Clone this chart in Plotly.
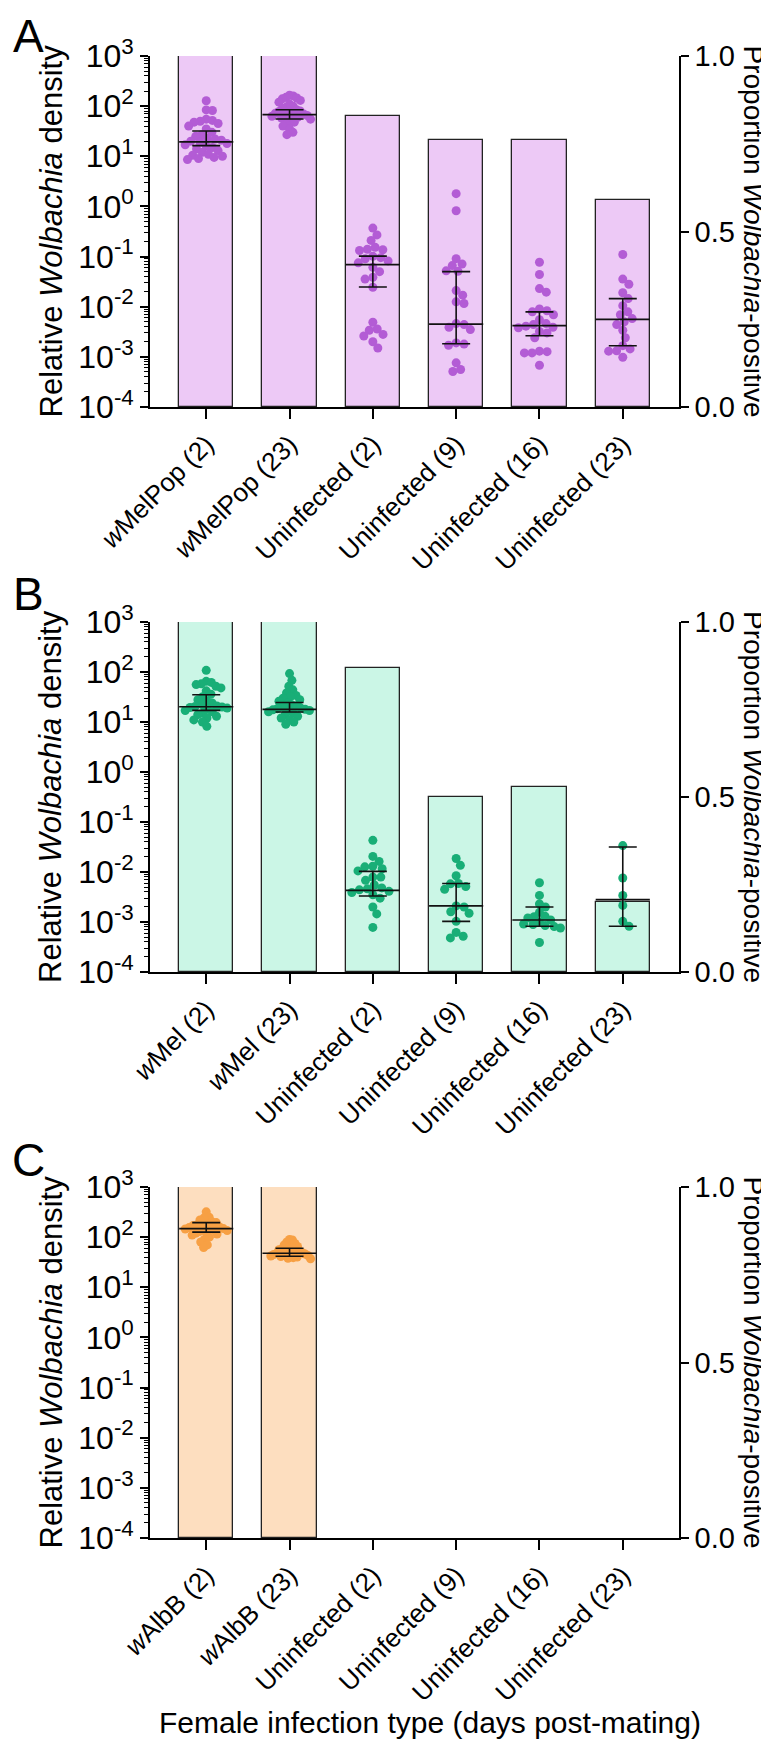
import numpy as np
import plotly.graph_objects as go

# ---------------- data ----------------
labels_A = ["<i>w</i>MelPop (2)", "<i>w</i>MelPop (23)", "Uninfected (2)", "Uninfected (9)", "Uninfected (16)", "Uninfected (23)"]
labels_B = ["<i>w</i>Mel (2)", "<i>w</i>Mel (23)", "Uninfected (2)", "Uninfected (9)", "Uninfected (16)", "Uninfected (23)"]
labels_C = ["<i>w</i>AlbB (2)", "<i>w</i>AlbB (23)", "Uninfected (2)", "Uninfected (9)", "Uninfected (16)", "Uninfected (23)"]

# proportion Wolbachia-positive (bars, right axis)
prop_A = [1.0, 1.0, 0.83, 0.76, 0.76, 0.59]
prop_B = [1.0, 1.0, 0.87, 0.50, 0.53, 0.20]
prop_C = [1.0, 1.0, 0.0, 0.0, 0.0, 0.0]

# relative density of individual females (points, left log axis)
A1 = [128, 84, 82, 55, 52, 50, 48, 45, 40, 35, 30, 27, 25, 23, 22, 21, 20, 19, 18, 17, 16, 15, 14, 13, 12, 11, 10.5, 10, 9.5, 9, 8.6]
A2 = [165, 160, 150, 145, 140, 130, 120, 110, 100, 95, 90, 85, 80, 78, 75, 72, 70, 68, 67, 65, 63, 60, 58, 55, 52, 48, 44, 40, 35, 30, 27]
A3 = [0.37, 0.27, 0.21, 0.153, 0.14, 0.137, 0.132, 0.101, 0.095, 0.09, 0.082, 0.075, 0.061, 0.05, 0.0385, 0.0355, 0.0245, 0.0049, 0.0036, 0.0034, 0.0028, 0.0026, 0.002, 0.0015]
A4 = [1.8, 0.82, 0.091, 0.071, 0.066, 0.052, 0.051, 0.021, 0.017, 0.0125, 0.0116, 0.0046, 0.0044, 0.0039, 0.0035, 0.0019, 0.0018, 0.0017, 0.00076, 0.00056, 0.00051]
A5 = [0.077, 0.044, 0.023, 0.0195, 0.009, 0.0083, 0.0079, 0.0069, 0.0055, 0.0046, 0.0044, 0.0041, 0.0039, 0.0038, 0.0032, 0.003, 0.0024, 0.0013, 0.00127, 0.0012, 0.0012, 0.00068]
A6 = [0.11, 0.0355, 0.028, 0.019, 0.0145, 0.0105, 0.0079, 0.0069, 0.0058, 0.005, 0.0044, 0.0034, 0.0024, 0.00167, 0.00144, 0.00132, 0.0013, 0.00098]

B1 = [108, 65, 62, 58, 56, 52, 48, 42, 36, 32, 28, 26, 24, 22, 21, 20.5, 20, 19.5, 19, 18, 17, 16, 15, 14, 13, 12, 11, 10, 8.2]
B2 = [93, 68, 52, 44, 38, 34, 32, 30, 28, 26, 24, 22, 21, 20, 19, 18.5, 18, 17.5, 17, 16.5, 16, 15, 14, 13, 12, 11, 10, 9]
B3 = [0.043, 0.0205, 0.0163, 0.013, 0.0127, 0.0116, 0.0105, 0.0079, 0.0079, 0.0068, 0.0055, 0.0048, 0.0046, 0.0044, 0.0041, 0.0039, 0.0035, 0.003, 0.002, 0.00145, 0.00078]
B4 = [0.0186, 0.0136, 0.0084, 0.0059, 0.0058, 0.0051, 0.0045, 0.0021, 0.0020, 0.0016, 0.0015, 0.00103, 0.00062, 0.00052, 0.00048]
B5 = [0.0061, 0.0034, 0.0023, 0.0020, 0.00156, 0.0013, 0.00128, 0.0012, 0.0011, 0.001, 0.00091, 0.00089, 0.00085, 0.00081, 0.00076, 0.00039]
B6 = [0.0337, 0.0076, 0.0034, 0.00215, 0.00103, 0.00082]

C1 = [320, 250, 240, 220, 200, 195, 185, 175, 170, 165, 160, 155, 150, 148, 145, 140, 135, 130, 125, 120, 115, 110, 100, 90, 80, 70, 62]
C2 = [90, 88, 80, 75, 70, 65, 62, 60, 58, 56, 54, 52, 50, 49, 48, 47, 46, 45, 44, 43, 42, 41, 40, 39, 38, 37]

# medians with error bars
med_A = [19.4, 67.6, 0.069, 0.0045, 0.0042, 0.0056]
lo_A = [16.3, 55.6, 0.0247, 0.00183, 0.00263, 0.00166]
hi_A = [32, 85, 0.102, 0.05, 0.0079, 0.0145]
med_B = [20.2, 17.9, 0.0043, 0.0021, 0.0011, 0.0028]
lo_B = [17.1, 15.9, 0.0033, 0.00103, 0.00082, 0.00082]
hi_B = [35, 24.6, 0.0103, 0.0059, 0.0020, 0.0316]
med_C = [148, 47.6]
lo_C = [126, 41.7]
hi_C = [195, 60]

log_ticks = [1e-4, 1e-3, 1e-2, 1e-1, 1e0, 1e1, 1e2, 1e3]
log_ticktext = ["10<sup>-4</sup>", "10<sup>-3</sup>", "10<sup>-2</sup>", "10<sup>-1</sup>",
                "10<sup>0</sup>", "10<sup>1</sup>", "10<sup>2</sup>", "10<sup>3</sup>"]
prop_ticks = [0.0, 0.5, 1.0]
prop_ticktext = ["0.0", "0.5", "1.0"]

# ---------------- style ----------------
W, H = 769, 1739
FONT = "Liberation Sans, Arial, sans-serif"
X_L, X_R = 142, 671
XRANGE = [-0.675, 5.675]
BAR_W = 0.65
PPX = (X_R - X_L) / (XRANGE[1] - XRANGE[0])
panels = [
    dict(top=48, bottom=399, labels=labels_A, prop=prop_A, groups=[A1, A2, A3, A4, A5, A6],
         med=med_A, lo=lo_A, hi=hi_A, fill="#EDC9F6", pt="#B35CD5", letter="A", ly=28),
    dict(top=614, bottom=964, labels=labels_B, prop=prop_B, groups=[B1, B2, B3, B4, B5, B6],
         med=med_B, lo=lo_B, hi=hi_B, fill="#CBF6E6", pt="#19AE77", letter="B", ly=586),
    dict(top=1179, bottom=1530, labels=labels_C, prop=prop_C, groups=[C1, C2],
         med=med_C, lo=lo_C, hi=hi_C, fill="#FDDEBF", pt="#F7A044", letter="C", ly=1152),
]


def swarm(vals, ppy, d=8.0, max_half=21.0):
    """Simple beeswarm: returns x offsets in px, compressed to fit inside the bar."""
    ys = np.log10(np.asarray(vals, float)) * ppy
    order = np.argsort(-ys)
    placed = []
    xs = np.zeros(len(ys))
    for i in order:
        y = ys[i]
        cands = [0.0]
        for (px, py) in placed:
            dy = y - py
            if abs(dy) < d:
                dx = np.sqrt(d * d - dy * dy)
                cands += [px + dx, px - dx]
        cands.sort(key=abs)
        for c in cands:
            if all((c - px) ** 2 + (y - py) ** 2 >= d * d - 1e-6 for px, py in placed):
                break
        placed.append((c, y))
        xs[i] = c
    m = np.max(np.abs(xs)) if len(xs) else 0
    if m > max_half:
        xs = xs * max_half / m
    return xs


fig = go.Figure()
layout = dict()
axis_line = dict(showline=True, linecolor="black", linewidth=1.6, ticks="outside",
                 tickcolor="black", tickwidth=1.6, showgrid=False, zeroline=False)
minor_vals = [k * 10.0 ** e for e in range(-4, 3) for k in range(2, 10)]
annotations = []
LTICK = 32
RTICK = 29
TITLE_SIZE = 31

for p_i, P in enumerate(panels):
    n = p_i + 1
    xa = "x" if n == 1 else f"x{n}"
    ya_base = 2 * n - 1
    ya_log = 2 * n
    yb = "y" if ya_base == 1 else f"y{ya_base}"
    yl = f"y{ya_log}"
    dom = [1 - P["bottom"] / H, 1 - P["top"] / H]
    ppy = (P["bottom"] - P["top"]) / 7.0

    layout["xaxis" if n == 1 else f"xaxis{n}"] = dict(
        domain=[X_L / W, X_R / W], range=XRANGE, anchor=yb, tickmode="array",
        tickvals=list(range(6)), ticktext=P["labels"], tickangle=-45, ticklen=10,
        tickfont=dict(family=FONT, size=26, color="black"), automargin=False, **axis_line)
    layout["yaxis" if ya_base == 1 else f"yaxis{ya_base}"] = dict(
        domain=dom, range=[0, 1], anchor=xa, side="right", tickmode="array",
        tickvals=prop_ticks, ticktext=prop_ticktext, ticklen=8,
        tickfont=dict(family=FONT, size=RTICK, color="black"), automargin=False, **axis_line)
    layout[f"yaxis{ya_log}"] = dict(
        type="log", range=[-4, 3], overlaying=yb, anchor=xa, side="left", tickmode="array",
        tickvals=log_ticks, ticktext=log_ticktext, ticklen=8,
        tickfont=dict(family=FONT, size=LTICK, color="black"), automargin=False,
        minor=dict(tickmode="array", tickvals=minor_vals, ticks="outside", ticklen=4,
                   tickwidth=1, tickcolor="black"),
        **axis_line)

    # bars
    fig.add_trace(go.Bar(x=list(range(6)), y=P["prop"], width=BAR_W, xaxis=xa, yaxis=yb,
                         marker=dict(color=P["fill"],
                                     line=dict(color="#222222",
                                               width=[1.3 if v > 0 else 0 for v in P["prop"]])),
                         hoverinfo="skip"))
    # points
    for g_i, vals in enumerate(P["groups"]):
        offs = swarm(vals, ppy) / PPX
        fig.add_trace(go.Scatter(x=g_i + offs, y=vals, mode="markers", xaxis=xa, yaxis=yl,
                                 marker=dict(color=P["pt"], size=9, line=dict(width=0))))
    # medians (full bar width)
    mx, my = [], []
    for g_i, m in enumerate(P["med"]):
        mx += [g_i - BAR_W / 2, g_i + BAR_W / 2, None]
        my += [m, m, None]
    fig.add_trace(go.Scatter(x=mx, y=my, mode="lines", xaxis=xa, yaxis=yl,
                             line=dict(color="#111111", width=1.6)))
    # error bars
    k = len(P["med"])
    fig.add_trace(go.Scatter(
        x=list(range(k)), y=P["med"], mode="markers", xaxis=xa, yaxis=yl,
        marker=dict(size=1, color="rgba(0,0,0,0)"),
        error_y=dict(type="data", symmetric=False,
                     array=[h - m for h, m in zip(P["hi"], P["med"])],
                     arrayminus=[m - l for m, l in zip(P["med"], P["lo"])],
                     color="#111111", thickness=1.6, width=14)))

    yc = 1 - (P["top"] + P["bottom"]) / 2 / H
    annotations.append(dict(text="Relative <i>Wolbachia</i> density", x=43 / W, y=yc,
                            xref="paper", yref="paper", textangle=-90, showarrow=False,
                            xanchor="center", yanchor="middle",
                            font=dict(family=FONT, size=TITLE_SIZE, color="black")))
    annotations.append(dict(text="Proportion <i>Wolbachia</i>-positive", x=745 / W, y=yc,
                            xref="paper", yref="paper", textangle=90, showarrow=False,
                            xanchor="center", yanchor="middle",
                            font=dict(family=FONT, size=28, color="black")))
    annotations.append(dict(text=P["letter"], x=20 / W, y=1 - P["ly"] / H, xref="paper",
                            yref="paper", showarrow=False, xanchor="center", yanchor="middle",
                            borderpad=0, font=dict(family=FONT, size=46, color="black")))

annotations.append(dict(text="Female infection type (days post-mating)", x=422 / W, y=1 - 1714 / H,
                        xref="paper", yref="paper", showarrow=False, xanchor="center",
                        yanchor="middle", font=dict(family=FONT, size=30, color="black")))

fig.update_layout(width=W, height=H, margin=dict(l=0, r=0, t=0, b=0, pad=0),
                  paper_bgcolor="white", plot_bgcolor="white", showlegend=False,
                  bargap=0, annotations=annotations, **layout)

fig.write_html("out.html")
